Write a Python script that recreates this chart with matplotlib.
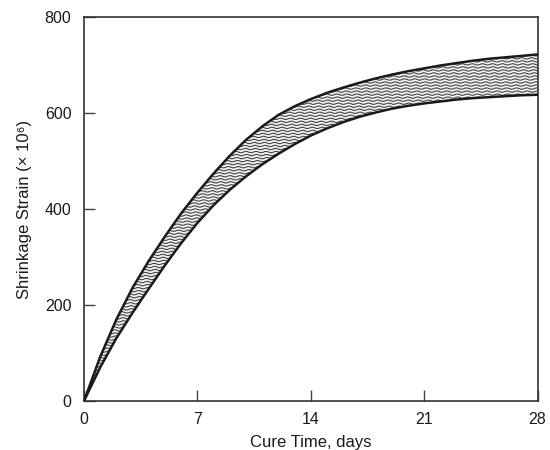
import numpy as np
import matplotlib
matplotlib.use("Agg")
import matplotlib.pyplot as plt
from matplotlib.patches import Polygon

plt.rcParams['font.family'] = ['Liberation Sans', 'DejaVu Sans']

# Cure time (days) and the upper / lower bounds of the shrinkage-strain band
days = [0, 1, 2, 3, 4, 5, 6, 7, 8, 9, 10, 11, 12, 13, 14, 15, 16, 17, 18, 19,
        20, 21, 22, 23, 24, 25, 26, 27, 28]
upper_strain = [0, 92, 170, 236, 292, 343, 391, 434, 474, 511, 544, 572, 596,
                614, 629, 642, 653, 663, 672, 680, 687, 693, 699, 704, 709,
                713, 716, 719, 722]
lower_strain = [0, 70, 131, 184, 234, 283, 329, 371, 408, 440, 468, 493, 515,
                535, 553, 568, 581, 592, 601, 609, 615, 620, 624, 628, 631,
                633, 635, 637, 638]

x_ticks = [0, 7, 14, 21, 28]
y_ticks = [0, 200, 400, 600, 800]

fig = plt.figure(figsize=(5.5, 4.5), dpi=100)
ax = fig.add_axes([0.1527, 0.1089, 0.8248, 0.8533])
ax.set_xlim(0, 28)
ax.set_ylim(0, 800)

ink = '#1a1a1a'

# band outline as a patch used to clip the wavy hatching
verts = np.column_stack([np.r_[days, days[::-1]],
                         np.r_[upper_strain, lower_strain[::-1]]])
band = Polygon(verts, closed=True, facecolor='#f2f2f2', edgecolor='none',
               transform=ax.transData, zorder=1)
ax.add_patch(band)

# wavy horizontal hatch lines inside the band
xs = np.linspace(0, 28, 2000)
for y0 in np.arange(2, 740, 6.3):
    ln, = ax.plot(xs, y0 + 1.4 * np.sin(2 * np.pi * xs / 0.62 + y0 * 0.05),
                  color='#444444', lw=0.8, zorder=2)
    ln.set_clip_path(band)

ax.plot(days, upper_strain, color=ink, lw=1.8, zorder=3,
        solid_capstyle='round', solid_joinstyle='round')
ax.plot(days, lower_strain, color=ink, lw=1.8, zorder=3,
        solid_capstyle='round', solid_joinstyle='round')

ax.set_xticks(x_ticks)
ax.set_yticks(y_ticks)
ax.tick_params(direction='in', length=8, width=1.0, color='#444444',
               labelsize=11.5, labelcolor=ink)
ax.tick_params(axis='x', pad=8)
ax.tick_params(axis='y', pad=9)

for s in ax.spines.values():
    s.set_color('#333333')
    s.set_linewidth(1.2)

ax.set_xlabel('Cure Time, days', fontsize=12, color=ink, labelpad=6)
ax.set_ylabel('Shrinkage Strain (\u00d7 10\u2076)', fontsize=12, color=ink,
              labelpad=9)

fig.savefig('out.png', dpi=100)
